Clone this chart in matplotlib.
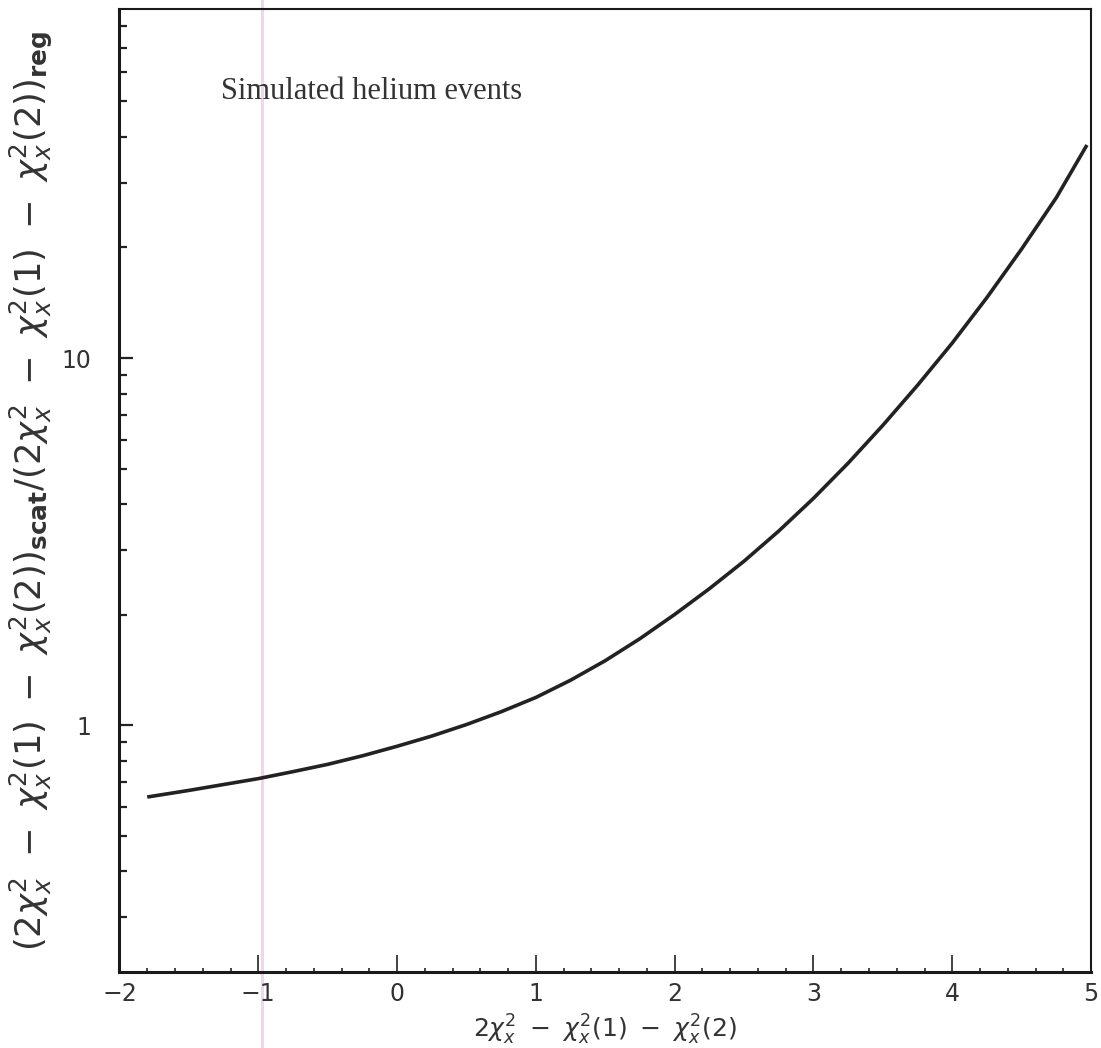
import matplotlib
matplotlib.use("Agg")
import matplotlib.pyplot as plt
import numpy as np
from matplotlib.ticker import FixedLocator, NullFormatter, FixedFormatter

# ratio of scattered to regular chi^2 differences vs. chi^2 difference
x_vals = [-1.8, -1.5, -1.25, -1.0, -0.75, -0.5, -0.25, 0.0, 0.25, 0.5, 0.75,
          1.0, 1.25, 1.5, 1.75, 2.0, 2.25, 2.5, 2.75, 3.0, 3.25, 3.5, 3.75,
          4.0, 4.25, 4.5, 4.75, 4.97]
ratio = [0.638, 0.665, 0.690, 0.716, 0.748, 0.783, 0.826, 0.877, 0.935, 1.005, 1.089,
         1.191, 1.327, 1.500, 1.722, 2.004, 2.355, 2.799, 3.381, 4.150, 5.176, 6.561, 8.433,
         10.99, 14.62, 19.82, 27.35, 38.02]

x_ticks = [-2, -1, 0, 1, 2, 3, 4, 5]
y_ticks = [1, 10]
y_ticklabels = ["1", "10"]

plt.rcParams['mathtext.fontset'] = 'dejavusans'

fig = plt.figure(figsize=(11.01, 10.48), dpi=100)
ax = fig.add_axes([0.1085, 0.0725, 0.8825, 0.9186])

ax.plot(x_vals, ratio, color="#222222", lw=2.6, solid_capstyle="butt",
        solid_joinstyle="round")

ax.set_yscale("log")
ax.set_xlim(-2, 5)
ax.set_ylim(0.213, 89)

# faint pink mark across the sheet
ax.axvline(-0.97, ymin=-0.09, ymax=1.02, color="#f5d2f3", lw=2.2, clip_on=False, zorder=0)

ax.xaxis.set_major_locator(FixedLocator(x_ticks))
ax.xaxis.set_minor_locator(FixedLocator([t for t in np.arange(-2, 5.01, 0.2)
                                         if abs(t - round(t)) > 1e-6]))
ax.yaxis.set_major_locator(FixedLocator(y_ticks))
ax.yaxis.set_major_formatter(FixedFormatter(y_ticklabels))
ax.yaxis.set_minor_locator(FixedLocator([v * d for d in (0.1, 1, 10) for v in range(2, 10)]))
ax.yaxis.set_minor_formatter(NullFormatter())

ax.tick_params(axis="both", which="both", direction="in", top=False, right=False,
               color="#222222", labelcolor="#333333")
ax.tick_params(axis="x", which="major", length=12, width=1.2, pad=7, labelsize=17)
ax.tick_params(axis="x", which="minor", length=3, width=1.2)
ax.tick_params(axis="y", which="major", length=10, width=1.6, pad=20, labelsize=17)
ax.tick_params(axis="y", which="minor", length=6, width=1.6)

for side in ("left", "bottom"):
    ax.spines[side].set_linewidth(2.2)
for side in ("top", "right"):
    ax.spines[side].set_linewidth(1.5)
for s in ax.spines.values():
    s.set_color("#1a1a1a")

ax.set_xlabel(r"$2\chi^2_x\ -\ \chi^2_x(1)\ -\ \chi^2_x(2)$", fontsize=18,
              color="#333333", labelpad=5)
ax.set_ylabel(r"$(2\chi^2_x\ -\ \chi^2_x(1)\ -\ \chi^2_x(2))_{\mathbf{scat}}/"
              r"(2\chi^2_x\ -\ \chi^2_x(1)\ -\ \chi^2_x(2))_{\mathbf{reg}}$",
              fontsize=25.5, color="#333333", labelpad=5)

ax.text(0.104, 0.915, "Simulated helium events", transform=ax.transAxes,
        family="Liberation Serif", fontsize=22, color="#333333", va="center")

fig.savefig("out.png", dpi=100)
